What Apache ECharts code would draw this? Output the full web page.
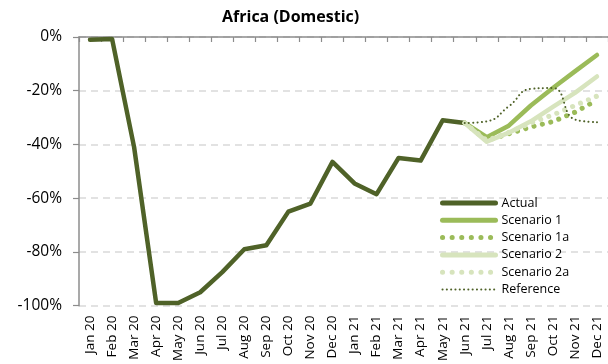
<!DOCTYPE html>
<html>
<head>
<meta charset="utf-8">
<script src="https://cdn.jsdelivr.net/npm/echarts@6/dist/echarts.min.js"></script>
<style>
  html, body { margin: 0; padding: 0; background: #fff; }
  #chart { width: 608px; height: 364px; }
</style>
</head>
<body>
<div id="chart"></div>
<script>
// Monthly change vs. 2019 for domestic traffic in Africa
const months = ['Jan 20','Feb 20','Mar 20','Apr 20','May 20','Jun 20','Jul 20','Aug 20','Sep 20','Oct 20','Nov 20','Dec 20',
                'Jan 21','Feb 21','Mar 21','Apr 21','May 21','Jun 21','Jul 21','Aug 21','Sep 21','Oct 21','Nov 21','Dec 21'];
const actual     = [-1, -0.7, -41, -99, -99, -95, -87.5, -79, -77.5, -65, -62, -46.5, -54.5, -58.5, -45, -46, -31, -32,
                    null, null, null, null, null, null];
const scenario1  = [null,null,null,null,null,null,null,null,null,null,null,null,null,null,null,null,null, -32, -37.3, -33, -25.5, -19, -12.8, -6.7];
const scenario1a = [null,null,null,null,null,null,null,null,null,null,null,null,null,null,null,null,null, -32, -38.5, -36, -33.5, -31.5, -28, -23.5];
const scenario2  = [null,null,null,null,null,null,null,null,null,null,null,null,null,null,null,null,null, -32, -39, -35.6, -31.4, -26, -20.8, -14.7];
const scenario2a = [null,null,null,null,null,null,null,null,null,null,null,null,null,null,null,null,null, -32, -38.5, -35.5, -32, -29, -25.5, -22];
const reference  = [null,null,null,null,null,null,null,null,null,null,null,null,null,null,null,null,null, -32, -31.4, -25.8, -19.3, -19, -30.7, -31.7];

const FONT = 'Open Sans';
const DARK = '#4F6228', MID = '#9BBB59', LIGHT = '#D7E4BD';

function line(name, data, color, width, type, extra) {
  return Object.assign({
    name, type: 'line', data, xAxisIndex: 0, symbol: 'none', connectNulls: false,
    lineStyle: { color, width, type, cap: 'round', join: 'round' },
    itemStyle: { color }
  }, extra || {});
}

const chart = echarts.init(document.getElementById('chart'), null, { renderer: 'canvas' });
chart.setOption({
  animation: false,
  textStyle: { fontFamily: FONT },
  title: {
    text: 'Africa (Domestic)', left: 217, top: 4,
    textStyle: { fontFamily: FONT, fontSize: 16, fontWeight: 'bold', color: '#000' }
  },
  grid: { left: 79, top: 37, width: 530, bottom: 57 },
  legend: {
    orient: 'vertical', left: 435, top: 191,
    itemWidth: 53, itemHeight: 10, itemGap: 3.3,
    itemStyle: { opacity: 0 },
    textStyle: { fontFamily: FONT, fontSize: 12.5, lineHeight: 14, color: '#000', padding: [0, 0, 0, 1] },
    data: [
      { name: 'Actual', lineStyle: { width: 5 } },
      { name: 'Scenario 1', lineStyle: { width: 5 } },
      { name: 'Scenario 1a', lineStyle: { width: 5, type: [0.1, 9.5] } },
      { name: 'Scenario 2', lineStyle: { width: 5 } },
      { name: 'Scenario 2a', lineStyle: { width: 5, type: [0.1, 9.5] } },
      { name: 'Reference', lineStyle: { width: 2 } }
    ]
  },
  xAxis: [
    {
      type: 'category', data: months, position: 'bottom', boundaryGap: true,
      axisLine: { show: false }, axisTick: { show: false },
      axisLabel: { rotate: 90, margin: 10, fontFamily: FONT, fontSize: 13.5, color: '#000', interval: 0 }
    },
    {
      type: 'category', data: months, position: 'top', boundaryGap: true,
      axisLine: { show: true, lineStyle: { color: '#8C8C8C', width: 1.5 } },
      axisTick: { show: true, inside: true, length: 5, interval: 0, lineStyle: { color: '#8C8C8C', width: 1.2 } },
      axisLabel: { show: false }
    }
  ],
  yAxis: {
    type: 'value', min: -100, max: 0, interval: 20,
    axisLine: { show: true, lineStyle: { color: '#8C8C8C', width: 1.5 } },
    axisTick: { show: true, length: 6, lineStyle: { color: '#8C8C8C', width: 1.2 } },
    axisLabel: { formatter: '{value}%', margin: 17, fontFamily: FONT, fontSize: 15.5, color: '#000' },
    splitLine: { show: true, lineStyle: { color: '#D9D9D9', width: 1.5, type: [7, 5] } }
  },
  series: [
    line('Actual', actual, DARK, 4.5, 'solid'),
    line('Scenario 1', scenario1, MID, 4.5, 'solid'),
    line('Scenario 1a', scenario1a, MID, 5, [0.1, 8.5]),
    line('Scenario 2', scenario2, LIGHT, 4.5, 'solid'),
    line('Scenario 2a', scenario2a, LIGHT, 5, [0.1, 8.5]),
    line('Reference', reference, DARK, 2, [0.1, 4.2], { smooth: 0.5 })
  ]
});
</script>
</body>
</html>
